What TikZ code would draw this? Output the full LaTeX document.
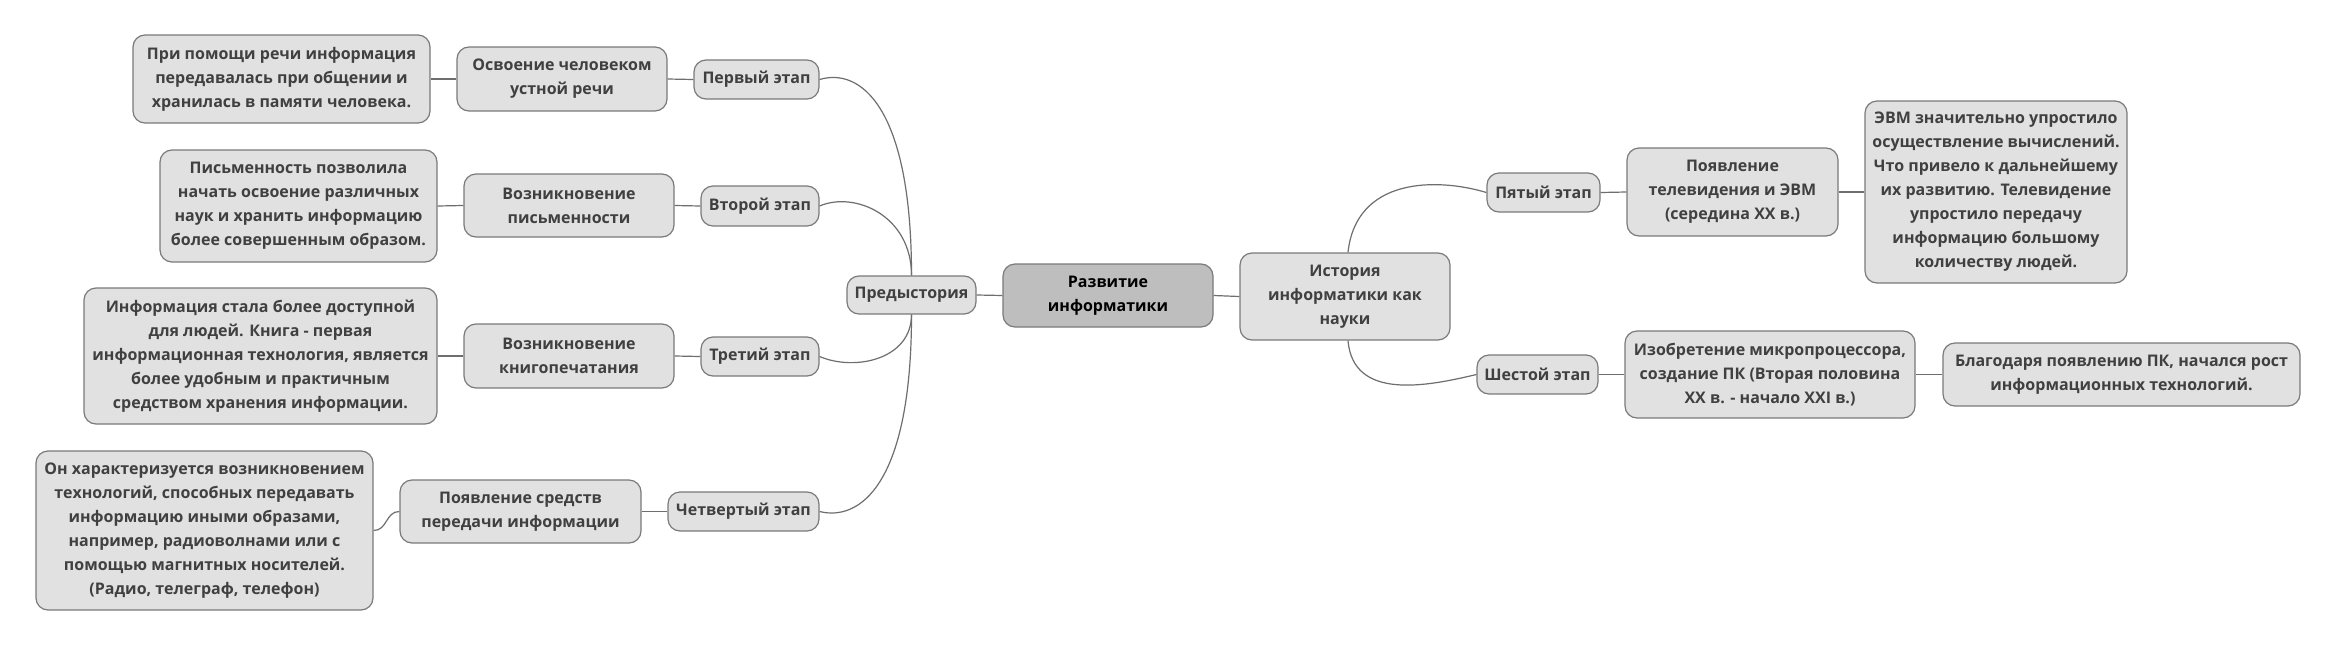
\documentclass[tikz,border=0pt]{standalone}
\usepackage{fontspec}
\setmainfont{Open Sans}
\begin{document}
\begin{tikzpicture}[x=1pt,y=-1pt,
  box/.style={draw=boxline, line width=1.2pt, fill=boxfill, rounded corners=12pt,
    inner sep=0pt, align=center, text=txt,
    font=\fontsize{16}{24}\selectfont\bfseries},
  rootbox/.style={box, fill=rootfill, text=black},
  conn/.style={draw=conncol, line width=1.2pt}]
\definecolor{boxline}{HTML}{7A7A7A}
\definecolor{boxfill}{HTML}{E1E1E1}
\definecolor{rootfill}{HTML}{BEBEBE}
\definecolor{txt}{HTML}{404040}
\definecolor{conncol}{HTML}{6E6E6E}
\useasboundingbox[fill=white] (0,0) rectangle (2337,648);
% center
\node[rootbox, minimum width=210pt, minimum height=63pt] (root) at (1108,295.5) {Развитие\\информатики};
\node[box, minimum width=129pt, minimum height=38pt] (pre) at (911.5,295) {Предыстория};
\node[box, minimum width=210pt, minimum height=87pt] (hist) at (1345,296.5) {История\\информатики как\\науки};
% left stages
\node[box, minimum width=125pt, minimum height=39pt] (s1) at (756.5,79.5) {Первый этап};
\node[box, minimum width=118pt, minimum height=40pt] (s2) at (760,206) {Второй этап};
\node[box, minimum width=118pt, minimum height=39pt] (s3) at (760,356.5) {Третий этап};
\node[box, minimum width=151pt, minimum height=39pt] (s4) at (743.5,511.5) {Четвертый этап};
\node[box, minimum width=210pt, minimum height=64pt] (m1) at (562,79) {Освоение человеком\\устной речи};
\node[box, minimum width=210pt, minimum height=63pt] (m2) at (569,205.5) {Возникновение\\письменности};
\node[box, minimum width=210pt, minimum height=64pt] (m3) at (569,356) {Возникновение\\книгопечатания};
\node[box, minimum width=241pt, minimum height=63pt] (m4) at (520.5,511.5) {Появление средств\\передачи информации};
\node[box, minimum width=297pt, minimum height=88pt] (l1) at (281.5,79) {При помощи речи информация\\передавалась при общении и\\хранилась в памяти человека.};
\node[box, minimum width=277pt, minimum height=112pt] (l2) at (298.5,206) {Письменность позволила\\начать освоение различных\\наук и хранить информацию\\более совершенным образом.};
\node[box, minimum width=353pt, minimum height=136pt] (l3) at (260.5,356) {Информация стала более доступной\\для людей. Книга - первая\\информационная технология, является\\более удобным и практичным\\средством хранения информации.};
\node[box, minimum width=337pt, minimum height=159pt] (l4) at (204.5,530.5) {Он характеризуется возникновением\\технологий, способных передавать\\информацию иными образами,\\например, радиоволнами или с\\помощью магнитных носителей.\\(Радио, телеграф, телефон)};
% right
\node[box, minimum width=113pt, minimum height=39pt] (s5) at (1543.5,192.5) {Пятый этап};
\node[box, minimum width=211pt, minimum height=88pt] (m5) at (1732.5,192) {Появление\\телевидения и ЭВМ\\(середина XX в.)};
\node[box, minimum width=262pt, minimum height=182pt] (l5) at (1996,192) {ЭВМ значительно упростило\\осуществление вычислений.\\Что привело к дальнейшему\\их развитию. Телевидение\\упростило передачу\\информацию большому\\количеству людей.};
\node[box, minimum width=121pt, minimum height=39pt] (s6) at (1537.5,374.5) {Шестой этап};
\node[box, minimum width=290pt, minimum height=87pt] (m6) at (1770,374.5) {Изобретение микропроцессора,\\создание ПК (Вторая половина\\XX в. - начало XXI в.)};
\node[box, minimum width=357pt, minimum height=63pt] (l6) at (2121.5,374.5) {Благодаря появлению ПК, начался рост\\информационных технологий.};
% connectors
\draw[conn] (root.west) -- (pre.east);
\draw[conn] (root.east) -- (hist.west);
\draw[conn] (pre.north) .. controls +(0,-170) and +(40,-12) .. (s1.east);
\draw[conn] (pre.north) .. controls +(0,-60) and +(35,-15) .. (s2.east);
\draw[conn] (pre.south) .. controls +(0,45) and +(35,15) .. (s3.east);
\draw[conn] (pre.south) .. controls +(0,170) and +(40,10) .. (s4.east);
\draw[conn] (s1.west) -- (m1.east);
\draw[conn] (s2.west) -- (m2.east);
\draw[conn] (s3.west) -- (m3.east);
\draw[conn] (s4.west) -- (m4.east);
\draw[conn] (m1.west) -- (l1.east);
\draw[conn] (m2.west) -- (l2.east);
\draw[conn] (m3.west) -- (l3.east);
\draw[conn] (m4.west) .. controls +(-14,0) and +(14,0) .. (l4.east);
\draw[conn] ([xshift=3pt]hist.north) .. controls +(8,-75) and +(-50,-15) .. (s5.west);
\draw[conn] ([xshift=3pt]hist.south) .. controls +(5,60) and +(-50,12) .. (s6.west);
\draw[conn] (s5.east) -- (m5.west);
\draw[conn] (m5.east) -- (l5.west);
\draw[conn] (s6.east) -- (m6.west);
\draw[conn] (m6.east) -- (l6.west);
\end{tikzpicture}
\end{document}
